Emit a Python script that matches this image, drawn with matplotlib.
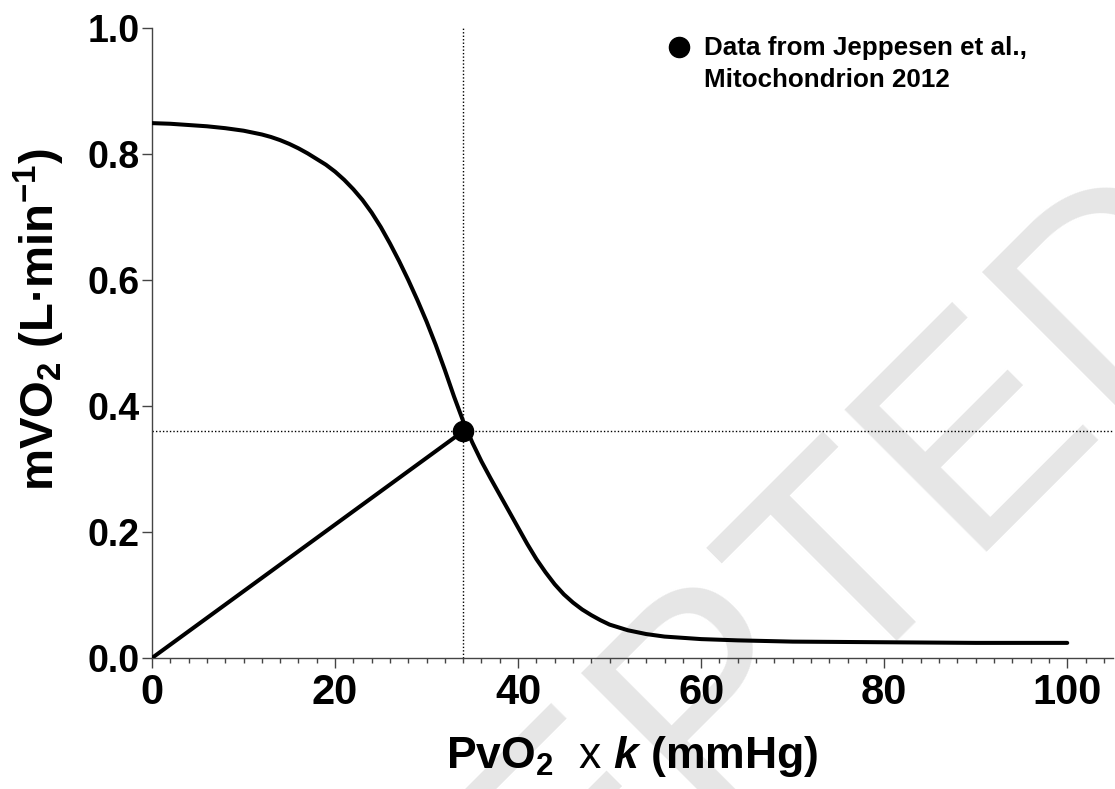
import matplotlib.pyplot as plt
from matplotlib.ticker import MultipleLocator

plt.rcParams['font.family'] = ['Liberation Sans', 'DejaVu Sans']
plt.rcParams['mathtext.fontset'] = 'custom'
plt.rcParams['mathtext.rm'] = 'Liberation Sans'
plt.rcParams['mathtext.bf'] = 'Liberation Sans:bold'
plt.rcParams['mathtext.it'] = 'Liberation Sans:italic'
plt.rcParams['mathtext.bfit'] = 'Liberation Sans:bold:italic'

# mitochondrial demand curve
pvo2 = [0, 2, 4, 6, 8, 10, 11, 12, 13, 14, 15, 16, 17, 18, 19, 20, 21, 22, 23,
        24, 25, 26, 27, 28, 29, 30, 31, 32, 33, 34, 35, 36, 37, 38, 39, 40,
        41, 42, 43, 44, 45, 46, 47, 48, 49, 50, 52, 54, 56, 58, 60, 64, 70,
        80, 90, 100]
mvo2 = [0.849, 0.848, 0.846, 0.844, 0.841, 0.837, 0.834, 0.831, 0.827, 0.822,
        0.816, 0.809, 0.801, 0.792, 0.783, 0.772, 0.759, 0.744, 0.727,
        0.707, 0.684, 0.658, 0.630, 0.600, 0.568, 0.534, 0.497, 0.457, 0.415,
        0.376, 0.342, 0.312, 0.285, 0.259, 0.233, 0.207,
        0.181, 0.157, 0.136, 0.117, 0.101, 0.088, 0.077, 0.068, 0.060, 0.053,
        0.044, 0.038, 0.034, 0.032, 0.030, 0.028, 0.026,
        0.025, 0.024, 0.024]

# supply line and measured point
supply_x = [0, 34]
supply_y = [0, 0.36]
point_x = [34]
point_y = [0.36]
point_label = "Data from Jeppesen et al.,\nMitochondrion 2012"

xticks = [0, 20, 40, 60, 80, 100]
yticks = [0.0, 0.2, 0.4, 0.6, 0.8, 1.0]

fig = plt.figure(figsize=(11.15, 7.89), dpi=100)
ax = fig.add_axes([152 / 1115, 131 / 789, 961 / 1115, 630 / 789])
ax.patch.set_alpha(0)

fig.text(0.576, 0.0, "ACCEPTED", rotation=45, rotation_mode='anchor',
         ha='center', va='center', fontsize=210, color='#e6e6e6', zorder=-5)

ax.axvline(point_x[0], color='black', lw=1.0, ls=(0, (1, 1.5)), zorder=1)
ax.axhline(point_y[0], color='black', lw=1.0, ls=(0, (1, 1.5)), zorder=1)

ax.plot(pvo2, mvo2, color='black', lw=2.9, solid_capstyle='round',
        solid_joinstyle='round', zorder=3)
ax.plot(supply_x, supply_y, color='black', lw=2.9, solid_capstyle='round', zorder=3)
ax.plot(point_x, point_y, 'o', color='black', ms=14.5, zorder=4, label=point_label)

ax.set_xlim(0, 105)
ax.set_ylim(0, 1.0)
ax.set_xticks(xticks)
ax.set_xticklabels([str(t) for t in xticks])
ax.set_yticks(yticks)
ax.set_yticklabels(["%.1f" % t for t in yticks])
ax.xaxis.set_minor_locator(MultipleLocator(2))

for side in ['top', 'right']:
    ax.spines[side].set_visible(False)
for side in ['left', 'bottom']:
    ax.spines[side].set_color('#444444')
    ax.spines[side].set_linewidth(1.0)

ax.tick_params(axis='x', which='major', length=7, width=1.0, color='#444444',
               labelsize=30, pad=4)
ax.tick_params(axis='x', which='minor', length=3.5, width=1.0, color='#444444')
ax.tick_params(axis='y', which='major', length=7, width=1.0, color='#444444',
               labelsize=27, pad=2)
for lab in ax.get_xticklabels() + ax.get_yticklabels():
    lab.set_fontweight('bold')

ax.set_xlabel(r"PvO$_\mathbf{2}$  $\mathrm{x}$ $\mathbfit{k}$ (mmHg)",
              fontsize=32, fontweight='bold', labelpad=15)
ax.set_ylabel(r"mVO$_\mathbf{2}$ (L·min$^\mathbf{-1}$)",
              fontsize=34, fontweight='bold')
ax.yaxis.set_label_coords(-0.088, 0.537)

leg = ax.legend(loc='upper left', bbox_to_anchor=(0.511, 1.025), frameon=False,
                prop={'weight': 'bold', 'size': 18.7}, handletextpad=0.45,
                handlelength=1.0, markerscale=1.0)
leg.get_texts()[0].set_linespacing(1.45)
# lift the marker to the first line of the two-line label
handle = leg.legend_handles[0]
handle.set_ydata([y + 12.2 for y in handle.get_ydata()])

fig.savefig("out.png", dpi=100)
